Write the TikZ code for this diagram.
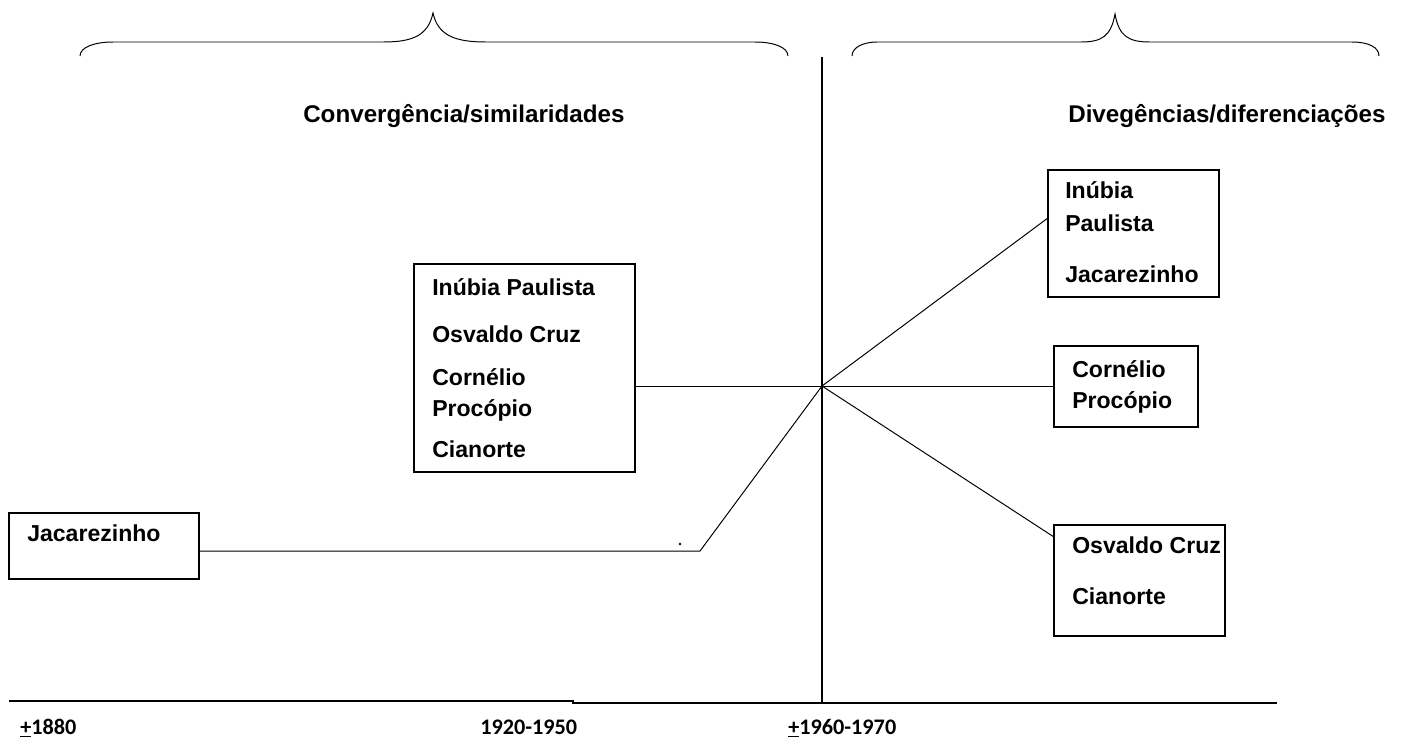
\documentclass[tikz,border=0pt]{standalone}
\usepackage{fontspec}
\setmainfont{Liberation Sans}
\newfontfamily\yearfont{Carlito}
\usetikzlibrary{calc}
\usetikzlibrary{fit}

\begin{document}
\begin{tikzpicture}[x=0.025cm, y=-0.025cm,
    box/.style={draw, line width=0.8pt, inner sep=0pt},
    txt/.style={anchor=base west, inner sep=0pt, font=\fontsize{16.4}{19}\selectfont\bfseries},
    ttl/.style={txt, font=\fontsize{17.2}{20}\selectfont\bfseries},
    yr/.style={anchor=base west, inner sep=0pt, font=\fontsize{15.8}{18}\selectfont\yearfont\bfseries},
    link/.style={line width=0.7pt},
    axis/.style={line width=0.9pt}]
    \useasboundingbox (0,0) rectangle (1407,745);

    \coordinate (hub) at (822,386);
    \coordinate (vtop) at (822,57);
    \coordinate (vbot) at (822,702);
    \coordinate (bend) at (700,551);
    \coordinate (axL) at (9,701);
    \coordinate (axM) at (573,701);
    \coordinate (axR) at (1277,703);

    % boxes
    \node[box, fit={(9,513) (199,579)}] (jac) {};
    \node[box, fit={(414,264) (635,472)}] (conv) {};
    \node[box, fit={(1048,170) (1219,297)}] (ipj) {};
    \node[box, fit={(1054,346) (1198,427)}] (corn) {};
    \node[box, fit={(1054,525) (1225,636)}] (osc) {};

    % box texts
    \node[txt] (jacA) at (27,541) {Jacarezinho};

    \node[txt] (convA) at (432,295) {Inúbia Paulista};
    \node[txt] (convB) at (432,342) {Osvaldo Cruz};
    \node[txt] (convC) at (432,385) {Cornélio};
    \node[txt] (convD) at (432,416) {Procópio};
    \node[txt] (convE) at (432,457) {Cianorte};

    \node[txt] (ipjA) at (1065,198) {Inúbia};
    \node[txt] (ipjB) at (1065,231) {Paulista};
    \node[txt] (ipjC) at (1065,282) {Jacarezinho};

    \node[txt] (cornA) at (1072,377) {Cornélio};
    \node[txt] (cornB) at (1072,408) {Procópio};

    \node[txt] (oscA) at (1072,553) {Osvaldo Cruz};
    \node[txt] (oscB) at (1072,604) {Cianorte};

    % titles
    \node[ttl] (convT) at (303,122) {Convergência/similaridades};
    \node[ttl] (divT) at (1068,122) {Divegências/diferenciações};

    % braces
    \draw[link] (80,56) .. controls (80,47) and (95,42) .. (113,42) -- (383,42)
        .. controls (412,42) and (428,36) .. (433,13)
        .. controls (438,36) and (456,42) .. (486,42) -- (755,42)
        .. controls (773,42) and (788,47) .. (788,56);
    \draw[link] (852,56) .. controls (852,47) and (864,42) .. (877,42) -- (1081,42)
        .. controls (1102,42) and (1111,36) .. (1115,14)
        .. controls (1119,36) and (1128,42) .. (1150,42) -- (1352,42)
        .. controls (1368,42) and (1379,47) .. (1379,56);

    % axes
    \draw[axis] (vtop) -- (vbot);
    \draw[axis] (axL) -- (axM) -- (axM |- axR) -- (axR);

    % connectors
    \draw[link] (jac.east |- bend) -- (bend) -- (hub);
    \draw[link] (conv.east |- hub) -- (hub);
    \draw[link] (hub) -- (ipj.170);
    \draw[link] (hub) -- (corn.west |- hub);
    \draw[link] (hub) -- (osc.153);
    \fill (680,544) circle (1pt);

    % years
    \node[yr] (y1) at (20,734) {\underline{+}1880};
    \node[yr] (y2) at (480,734) {1920-1950};
    \node[yr] (y3) at (788,734) {\underline{+}1960-1970};
\end{tikzpicture}
\end{document}
